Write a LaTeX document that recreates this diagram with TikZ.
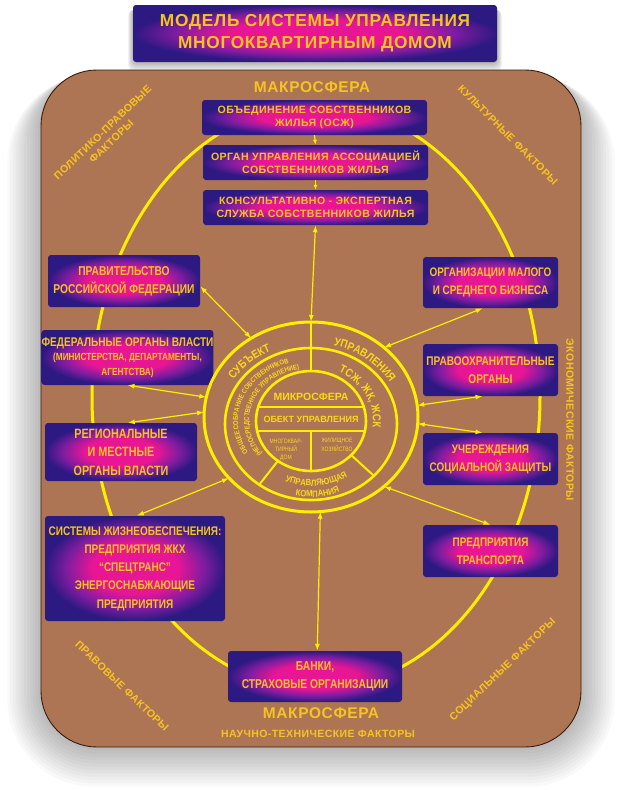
\documentclass[tikz,border=0pt]{standalone}
\usepackage{fontspec}
\setmainfont{Liberation Sans}
\newfontfamily\condfont[FakeStretch=0.8]{Liberation Sans}
\newfontfamily\ringfont[FakeStretch=0.86]{Liberation Sans}
\newfontfamily\widefont[LetterSpace=4]{Liberation Sans}
\usetikzlibrary{arrows.meta,calc,decorations.text}
\definecolor{bgbrown}{RGB}{173,117,84}
\definecolor{panelbd}{RGB}{55,28,12}
\definecolor{ylw}{RGB}{255,238,0}
\definecolor{gold}{RGB}{246,196,32}
\definecolor{ringtxt}{RGB}{250,215,30}
\definecolor{mag}{RGB}{232,22,148}
\definecolor{vio}{RGB}{128,28,160}
\definecolor{dblue}{RGB}{45,25,130}
\pgfdeclareradialshading{boxshade}{\pgfpoint{0bp}{0bp}}{color(0bp)=(mag); color(12bp)=(mag); color(19bp)=(vio); color(25bp)=(dblue); color(50bp)=(dblue)}
\newcommand\ringA{\ringfont\bfseries\fontsize{11.5}{12}\selectfont}
\newcommand\ringB{\ringfont\bfseries\fontsize{7}{8}\selectfont}
\newcommand\ringC{\ringfont\bfseries\fontsize{9}{10}\selectfont}
\tikzset{
  gbox/.style={shading=boxshade, rounded corners=3pt, inner sep=0pt, align=center, text=gold,
    font=\condfont\bfseries\fontsize{12.4}{18}\selectfont},
  tbox/.style={gbox, minimum width=225pt, minimum height=35pt,
    font=\widefont\bfseries\fontsize{10.6}{13}\selectfont},
  factor/.style={text=gold, align=center, font=\widefont\bfseries\fontsize{10.5}{12.5}\selectfont},
  macro/.style={text=gold, font=\widefont\bfseries\fontsize{15.5}{17}\selectfont},
  biarrow/.style={draw=ylw, line width=1.2pt, {Latex[length=7pt,width=5pt]}-{Latex[length=7pt,width=5pt]}},
  onearrow/.style={draw=ylw, line width=1.2pt, -{Latex[length=5pt,width=4pt]}},
  ring/.style={draw=ylw, line width=2.6pt},
  inner/.style={draw=ylw, line width=2pt},
  itext/.style={text=ringtxt, align=center},
}
\begin{document}
\begin{tikzpicture}[x=1pt,y=1pt]
\useasboundingbox (0,0) rectangle (621,-790);
\fill[white] (0,0) rectangle (621,-790);
% panel shadow
\foreach \i in {1,...,12}{
  \pgfmathsetmacro\rr{56+\i*2.5}
  \fill[black,opacity=0.022,rounded corners=\rr pt] ({41-\i*2.8},{-72-\i*0.3}) rectangle ({581+\i*2.8},{-747-\i*3.3});
}
% title shadow
\foreach \i in {1,...,6}{
  \fill[black,opacity=0.05,rounded corners=5pt] ({133-\i*0.8},{-8-\i*0.3}) rectangle ({497+\i*0.8},{-62-\i*1.5});
}
% panel
\draw[draw=panelbd, line width=0.9pt, fill=bgbrown, rounded corners=56pt] (41,-70) rectangle (581,-747);
% big ellipse
\draw[draw=ylw, line width=3pt] (316,-397) ellipse [x radius=224pt, y radius=292pt];

% title
\node[gbox, minimum width=364pt, minimum height=57pt, font=\widefont\bfseries\fontsize{17.3}{22}\selectfont] (title) at (315,-33.5) {МОДЕЛЬ СИСТЕМЫ УПРАВЛЕНИЯ\\МНОГОКВАРТИРНЫМ ДОМОМ};

% macro labels
\node[macro] (m1) at (312,-87) {МАКРОСФЕРА};
\node[macro] (m2) at (321,-713) {МАКРОСФЕРА};
\node[factor] (nt) at (318,-733.5) {НАУЧНО-ТЕХНИЧЕСКИЕ ФАКТОРЫ};
\node[factor, rotate=44] (f1) at (107,-137) {ПОЛИТИКО-ПРАВОВЫЕ\\ФАКТОРЫ};
\node[factor, rotate=-45] (f2) at (508,-135) {КУЛЬТУРНЫЕ ФАКТОРЫ};
\node[factor, rotate=-90] (f3) at (570,-420) {ЭКОНОМИЧЕСКИЕ ФАКТОРЫ};
\node[factor, rotate=-44] (f4) at (122,-686) {ПРАВОВЫЕ ФАКТОРЫ};
\node[factor, rotate=44] (f5) at (503,-670) {СОЦИАЛЬНЫЕ ФАКТОРЫ};

% centre geometry
\coordinate (C0) at (311,-421);
\coordinate (C1) at (311,-417);
\coordinate (C2) at (311,-424);
\coordinate (C3) at (311,-421);

% boxes
\node[tbox] (k1) at (314.5,-117.5) {ОБЪЕДИНЕНИЕ СОБСТВЕННИКОВ\\ЖИЛЬЯ (ОСЖ)};
\node[tbox] (k2) at (315.5,-162.5) {ОРГАН УПРАВЛЕНИЯ АССОЦИАЦИЕЙ\\СОБСТВЕННИКОВ ЖИЛЬЯ};
\node[tbox] (k3) at (315.5,-207.5) {КОНСУЛЬТАТИВНО - ЭКСПЕРТНАЯ\\СЛУЖБА СОБСТВЕННИКОВ ЖИЛЬЯ};

\node[gbox, minimum width=152pt, minimum height=52pt, font=\condfont\bfseries\fontsize{12.8}{18}\selectfont] (gov) at (124,-281) {ПРАВИТЕЛЬСТВО\\РОССИЙСКОЙ ФЕДЕРАЦИИ};
\node[gbox, minimum width=169pt, minimum height=55pt, font=\condfont\bfseries\fontsize{12.6}{18}\selectfont] (fed) at (127.5,-357.5) {ФЕДЕРАЛЬНЫЕ ОРГАНЫ ВЛАСТИ\\[-4pt]{\fontsize{10.3}{15}\selectfont (МИНИСТЕРСТВА, ДЕПАРТАМЕНТЫ,}\\[-3pt]{\fontsize{10.3}{15}\selectfont АГЕНТСТВА)}};
\node[gbox, minimum width=152pt, minimum height=58pt, font=\condfont\bfseries\fontsize{13.5}{18.5}\selectfont] (reg) at (121,-452) {РЕГИОНАЛЬНЫЕ\\И МЕСТНЫЕ\\ОРГАНЫ ВЛАСТИ};
\node[gbox, minimum width=180pt, minimum height=105pt, font=\condfont\bfseries\fontsize{12.5}{18.3}\selectfont] (sys) at (135,-568.5) {СИСТЕМЫ ЖИЗНЕОБЕСПЕЧЕНИЯ:\\ПРЕДПРИЯТИЯ ЖКХ\\“СПЕЦТРАНС”\\ЭНЕРГОСНАБЖАЮЩИЕ\\ПРЕДПРИЯТИЯ};
\node[gbox, minimum width=135pt, minimum height=51pt] (biz) at (490.5,-282.5) {ОРГАНИЗАЦИИ МАЛОГО\\И СРЕДНЕГО БИЗНЕСА};
\node[gbox, minimum width=135pt, minimum height=52pt, font=\condfont\bfseries\fontsize{12.6}{18}\selectfont] (law) at (490.5,-370) {ПРАВООХРАНИТЕЛЬНЫЕ\\ОРГАНЫ};
\node[gbox, minimum width=135pt, minimum height=52pt] (soc) at (490.5,-459) {УЧЕРЕЖДЕНИЯ\\СОЦИАЛЬНОЙ ЗАЩИТЫ};
\node[gbox, minimum width=135pt, minimum height=52pt] (trans) at (490.5,-551) {ПРЕДПРИЯТИЯ\\ТРАНСПОРТА};
\node[gbox, minimum width=174pt, minimum height=51pt, font=\condfont\bfseries\fontsize{12.8}{18}\selectfont] (bank) at (315,-676.5) {БАНКИ,\\СТРАХОВЫЕ ОРГАНИЗАЦИИ};

% points on the outer ring
\coordinate (rtop) at ($(C1)+(90:107pt and 95pt)$);
\coordinate (rgov) at ($(C1)+(124:107pt and 95pt)$);
\coordinate (rfed) at ($(C1)+(168:107pt and 95pt)$);
\coordinate (rreg) at ($(C1)+(177:107pt and 95pt)$);
\coordinate (rsys) at ($(C1)+(220:107pt and 95pt)$);
\coordinate (rbiz) at ($(C1)+(47:107pt and 95pt)$);
\coordinate (rlaw) at ($(C1)+(7:107pt and 95pt)$);
\coordinate (rsoc) at ($(C1)+(-4:107pt and 95pt)$);
\coordinate (rtrans) at ($(C1)+(-47:107pt and 95pt)$);
\coordinate (rbank) at ($(C1)+(-85:107pt and 95pt)$);

% arrows
\draw[onearrow] (k1.south) -- (k2.north);
\draw[onearrow] (k2.south) -- (k3.north);
\draw[biarrow] (k3.south) -- (rtop);
\draw[biarrow] (gov.-4) -- (rgov);
\draw[biarrow] (fed.south) -- (rfed);
\draw[biarrow] (reg.77) -- (rreg);
\draw[biarrow] (sys.88) -- (rsys);
\draw[biarrow] (biz.-107) -- (rbiz);
\draw[biarrow] (law.-107) -- (rlaw);
\draw[biarrow] (soc.107) -- (rsoc);
\draw[biarrow] (trans.north) -- (rtrans);
\draw[biarrow] (bank.85) -- (rbank);

% rings
\draw[ring, line width=3pt] (C1) ellipse [x radius=107pt, y radius=95pt];
\draw[ring] (C2) ellipse [x radius=86pt, y radius=76pt];
\draw[ring] (C3) ellipse [x radius=55pt, y radius=50pt];
\draw[inner] ($(C1)+(90:107pt and 95pt)$) -- ($(C3)+(90:55pt and 50pt)$);
\draw[inner] ($(C3)+(233:55pt and 50pt)$) -- ($(C2)+(233:86pt and 76pt)$);
\draw[inner] ($(C3)+(317:55pt and 50pt)$) -- ($(C2)+(317:86pt and 76pt)$);
\begin{scope}
  \clip (C3) ellipse [x radius=55pt, y radius=50pt];
  \draw[inner] (240,-407) -- (380,-407);
  \draw[inner] (240,-431) -- (380,-431);
  \draw[inner] (311,-431) -- (311,-480);
\end{scope}

% inner texts
\node[itext, font=\bfseries\fontsize{10.5}{12}\selectfont] (micro) at (311,-397) {МИКРОСФЕРА};
\node[itext, font=\bfseries\fontsize{9}{10}\selectfont] (obj) at (311,-419.5) {ОБЕКТ УПРАВЛЕНИЯ};
\node[itext, font=\condfont\fontsize{6.3}{8}\selectfont] (mkd) at (286,-450) {МНОГОКВАР-\\ТИРНЫЙ\\ДОМ};
\node[itext, font=\condfont\fontsize{6.3}{8.5}\selectfont] (jkh) at (337,-445) {ЖИЛИЩНОЕ\\ХОЗЯЙСТВО};

% curved texts
\path[decorate, decoration={text along path, text color=ringtxt, text align=center, text={|\ringA|СУБЪЕКТ}}]
  ($(C0)+(165:91pt and 78pt)$) arc[start angle=165, end angle=101, x radius=91pt, y radius=78pt];
\path[decorate, decoration={text along path, text color=ringtxt, text align=center, text={|\ringA|УПРАВЛЕНИЯ}}]
  ($(C0)+(86:91pt and 78pt)$) arc[start angle=86, end angle=18, x radius=91pt, y radius=78pt];
\path[decorate, decoration={text along path, text color=ringtxt, text align=center, text={|\ringA|ТСЖ, ЖК, ЖСК}}]
  ($(C0)+(80:62pt and 55pt)$) arc[start angle=80, end angle=-25, x radius=62pt, y radius=55pt];
\path[decorate, decoration={text along path, text color=ringtxt, text align=center, text={|\ringB|ОБЩЕЕ СОБРАНИЕ СОБСТВЕННИКОВ}}]
  ($(C0)+(232:73pt and 61pt)$) arc[start angle=232, end angle=88, x radius=73pt, y radius=61pt];
\path[decorate, decoration={text along path, text color=ringtxt, text align=center, text={|\ringB|(НЕПОСРЕДСТВЕННОЕ УПРАВЛЕНИЕ)}}]
  ($(C0)+(232:62pt and 53pt)$) arc[start angle=232, end angle=88, x radius=62pt, y radius=53pt];
\path[decorate, decoration={text along path, text color=ringtxt, text align=center, text={|\ringC|УПРАВЛЯЮЩАЯ}}]
  ($(C0)+(225:70pt and 65pt)$) arc[start angle=225, end angle=325, x radius=70pt, y radius=65pt];
\path[decorate, decoration={text along path, text color=ringtxt, text align=center, text={|\ringC|КОМПАНИЯ}}]
  ($(C0)+(225:80pt and 76pt)$) arc[start angle=225, end angle=325, x radius=80pt, y radius=76pt];
\end{tikzpicture}
\end{document}
